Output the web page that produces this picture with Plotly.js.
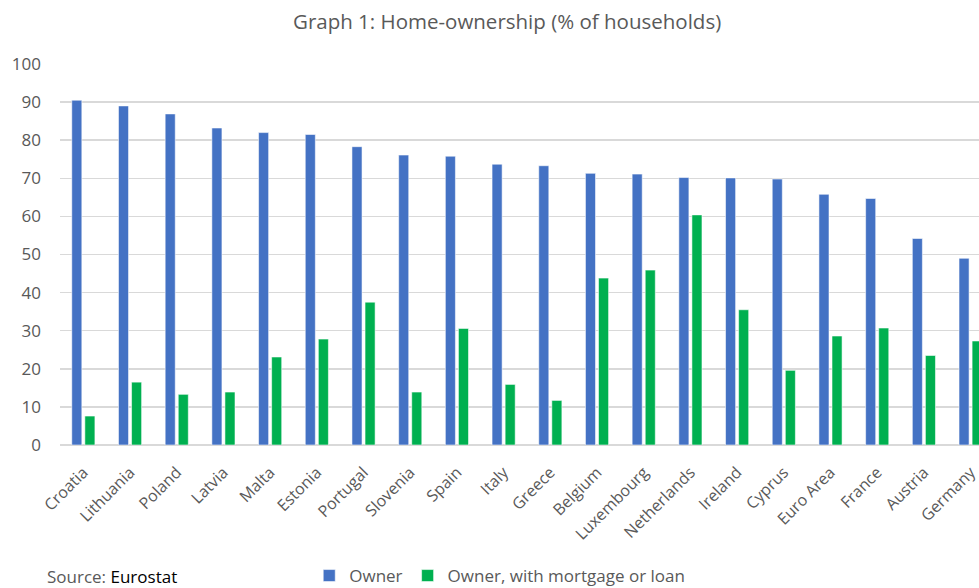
<!DOCTYPE html>
<html>
<head>
<meta charset="utf-8">
<script src="https://cdn.plot.ly/plotly-3.0.1.min.js"></script>
<style>html,body{margin:0;padding:0;background:#fff;overflow:hidden;}#chart{width:979px;height:594px;}</style>
</head>
<body>
<div id="chart"></div>
<script>
const countries = ["Croatia","Lithuania","Poland","Latvia","Malta","Estonia","Portugal","Slovenia","Spain","Italy","Greece","Belgium","Luxembourg","Netherlands","Ireland","Cyprus","Euro Area","France","Austria","Germany"];
const owner = [90.5,89.0,86.9,83.2,82.0,81.5,78.3,76.1,75.8,73.7,73.3,71.3,71.1,70.2,70.1,69.8,65.8,64.7,54.2,49.0];
const ownerMortgage = [7.6,16.5,13.3,13.9,23.1,27.8,37.5,13.9,30.6,15.9,11.7,43.8,45.9,60.4,35.5,19.6,28.6,30.7,23.5,27.3];
const yTicks = [0,10,20,30,40,50,60,70,80,90,100];

const FONT = "Open Sans, sans-serif";
const data = [
  {type:"bar", name:"Owner", x:countries, y:owner,
   marker:{color:"#4472C4", line:{color:"rgba(255,255,255,0.55)", width:1}}},
  {type:"bar", name:"Owner, with mortgage or loan", x:countries, y:ownerMortgage,
   marker:{color:"#00B050", line:{color:"rgba(255,255,255,0.55)", width:1}}}
];
const layout = {
  width:979, height:594,
  margin:{l:60, r:0, t:64, b:149},
  paper_bgcolor:"#fff", plot_bgcolor:"#fff",
  font:{family:FONT, color:"#595959"},
  title:{text:"Graph 1: Home-ownership (% of households)", font:{family:FONT, size:20.5, color:"#595959"},
         x:0.518, xref:"container", xanchor:"center", y:0.9625, yref:"container", yanchor:"middle"},
  barmode:"group", bargap:0.44, bargroupgap:0.23,
  xaxis:{type:"category", range:[-0.5,19.18], tickangle:-45, tickfont:{family:FONT, size:16, color:"#595959"},
         showgrid:false, showline:false, zeroline:false, ticks:"", ticklabelstandoff:14, fixedrange:true},
  yaxis:{range:[0,100], tickvals:yTicks, ticktext:yTicks.map(String), tickfont:{family:FONT, size:17, color:"#595959"},
         showgrid:true, gridcolor:"#D9D9D9", gridwidth:1.5, zeroline:true, zerolinecolor:"#D9D9D9", zerolinewidth:1.5,
         showline:false, ticks:"", ticklabelstandoff:18, fixedrange:true},
  showlegend:true,
  legend:{orientation:"h", x:0.2712, xanchor:"left", y:0, yanchor:"bottom", yref:"container",
          font:{family:FONT, size:17, color:"#595959"}, itemwidth:30, traceorder:"normal"},
  annotations:[
    {text:'Source: <span style="color:#000">Eurostat</span>', xref:"paper", yref:"paper",
     x:-0.016, y:-0.344, xanchor:"left", yanchor:"middle", showarrow:false,
     font:{family:FONT, size:17, color:"#595959"}}
  ]
};
Plotly.newPlot("chart", data, layout, {displayModeBar:false, staticPlot:true});
</script>
</body>
</html>
